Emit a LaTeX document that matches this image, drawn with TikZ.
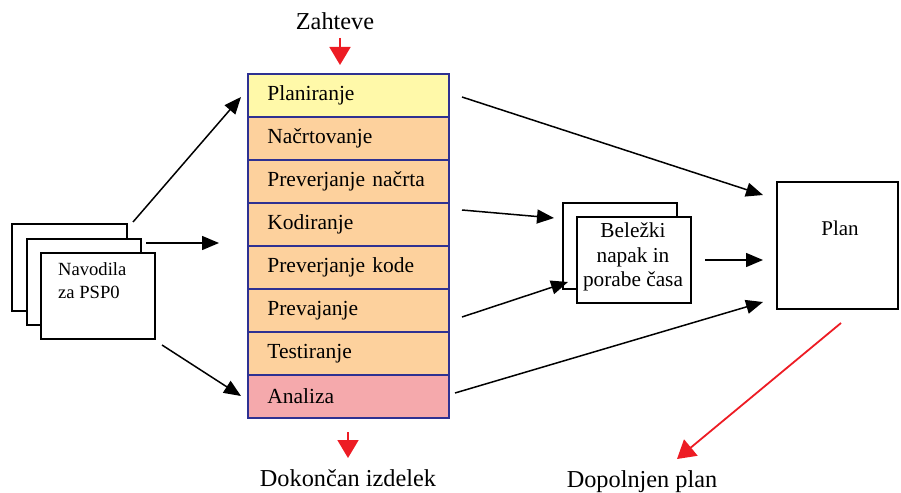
\documentclass[tikz,border=0pt]{standalone}
\usepackage{fontspec}
\setmainfont{Liberation Serif}
\usetikzlibrary{arrows.meta}
\definecolor{frameblue}{HTML}{2E3192}
\definecolor{rowyellow}{HTML}{FFF9A9}
\definecolor{roworange}{HTML}{FDD19D}
\definecolor{rowpink}{HTML}{F5A9AC}
\definecolor{arrred}{HTML}{ED1C24}
\begin{document}
\begin{tikzpicture}[x=1pt,y=-1pt,
  phase/.style={draw=frameblue,line width=1.7pt,anchor=north west,minimum width=201pt,minimum height=43pt,
    text width=162pt,inner xsep=19pt,align=left,font=\fontsize{21.5}{24}\selectfont},
  sheet/.style={draw=black,line width=1.6pt,fill=white,anchor=north west},
  conn/.style={line width=1.5pt,-{Triangle[length=17pt,width=14pt]}},
  redconn/.style={arrred,line width=1.8pt,-{Triangle[length=18pt,width=21pt]}},
  lbl/.style={font=\fontsize{24.3}{28}\selectfont}]
\useasboundingbox (0,0) rectangle (901,492);

% process column
\node[phase,fill=rowyellow] (r1) at (247,73) {Planiranje};
\node[phase,fill=roworange] (r2) at (247,116) {Načrtovanje};
\node[phase,fill=roworange] (r3) at (247,159) {Preverjanje načrta};
\node[phase,fill=roworange] (r4) at (247,202) {Kodiranje};
\node[phase,fill=roworange] (r5) at (247,245) {Preverjanje kode};
\node[phase,fill=roworange] (r6) at (247,288) {Prevajanje};
\node[phase,fill=roworange] (r7) at (247,331) {Testiranje};
\node[phase,fill=rowpink] (r8) at (247,374) {Analiza};

% instruction sheets
\node[sheet,minimum width=115pt,minimum height=87pt] (nav1) at (11,223) {};
\node[sheet,minimum width=114pt,minimum height=86pt] (nav2) at (26,238) {};
\node[sheet,minimum width=114pt,minimum height=86pt] (nav3) at (40,252) {};
\node[anchor=north west,align=left,font=\fontsize{18.6}{23}\selectfont,inner sep=0pt] (navtxt) at (58,262) {Navodila\\za PSP0};

% notes sheets
\node[sheet,minimum width=114pt,minimum height=86pt] (log1) at (562,202) {};
\node[sheet,minimum width=114pt,minimum height=86pt] (log2) at (576,216) {};
\node[align=center,font=\fontsize{21.3}{24.5}\selectfont,inner sep=0pt] (logtxt) at (633,257) {Beležki\\napak in\\porabe časa};

% plan box
\node[sheet,minimum width=121pt,minimum height=127pt] (plan) at (776,181) {};
\node[font=\fontsize{21}{24}\selectfont,inner sep=0pt] (plantxt) at (840,228) {Plan};

% labels
\node[lbl,anchor=base] (req) at (335,30) {Zahteve};
\node[lbl,anchor=base] (done) at (348,486) {Dokončan izdelek};
\node[lbl,anchor=base] (newplan) at (642,487) {Dopolnjen plan};

% connector end points
\coordinate (a1s) at (133,222); \coordinate (a1e) at (241,97);
\coordinate (a2s) at (146,243); \coordinate (a2e) at (219,243);
\coordinate (a3s) at (162,345); \coordinate (a3e) at (241,396);
\coordinate (b1s) at (462,97);  \coordinate (b1e) at (763,195);
\coordinate (b2s) at (462,210); \coordinate (b2e) at (554,218);
\coordinate (b3s) at (462,317); \coordinate (b3e) at (568,282);
\coordinate (b4s) at (455,393); \coordinate (b4e) at (763,302);
\coordinate (c1s) at (705,260); \coordinate (c1e) at (763,260);
\coordinate (rts) at (340,38);  \coordinate (rte) at (340,65);
\coordinate (rbs) at (348,432); \coordinate (rbe) at (348,458);
\coordinate (rps) at (841,323); \coordinate (rpe) at (677,459);

\draw[conn] (a1s) -- (a1e);
\draw[conn] (a2s) -- (a2e);
\draw[conn] (a3s) -- (a3e);
\draw[conn] (b1s) -- (b1e);
\draw[conn] (b2s) -- (b2e);
\draw[conn] (b3s) -- (b3e);
\draw[conn] (b4s) -- (b4e);
\draw[conn] (c1s) -- (c1e);
\draw[redconn] (rts) -- (rte);
\draw[redconn] (rbs) -- (rbe);
\draw[redconn] (rps) -- (rpe);
\end{tikzpicture}
\end{document}
